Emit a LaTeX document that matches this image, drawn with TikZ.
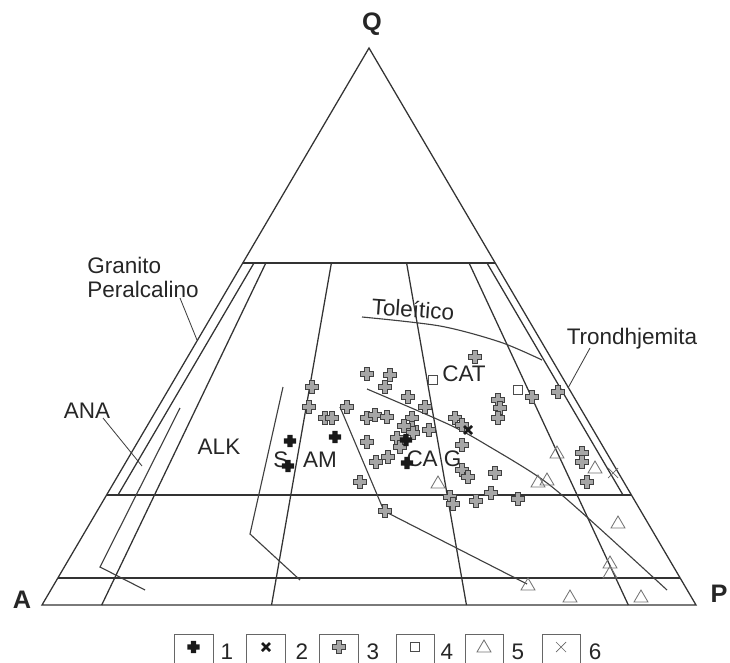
\documentclass[tikz,border=0pt]{standalone}
\usepackage{fontspec}
\setmainfont{Liberation Sans}
\usetikzlibrary{calc}

\newcommand{\crossoutline}[2]{(-#1,-#2) -- (#1,-#2) -- (#1,-#1) -- (#2,-#1) -- (#2,#1) -- (#1,#1) -- (#1,#2) -- (-#1,#2) -- (-#1,#1) -- (-#2,#1) -- (-#2,-#1) -- (-#1,-#1) -- cycle}

\tikzset{
  frame/.style={line width=0.9pt, black!80},
  trend/.style={line width=0.8pt, black!75},
  pointer/.style={line width=0.6pt, black!75},
  lbl/.style={font=\fontsize{16}{17.7}\selectfont, text=black!85, inner sep=0pt},
  vtx/.style={font=\fontsize{18}{20}\selectfont\bfseries, text=black!85, inner sep=0pt},
  legbox/.style={line width=0.6pt, black!60},
  pics/solidplus/.style={code={\fill[black!90] \crossoutline{2.6}{6.2};}},
  pics/hollowplus/.style={code={\draw[black!75, fill=black!35, line width=0.8pt] \crossoutline{2.3}{6.2};}},
  pics/boldx/.style={code={\draw[black!90, line width=1.8pt] (-4,-4) -- (4,4) (-4,4) -- (4,-4);}},
  pics/opensquare/.style={code={\draw[black!70, line width=0.6pt] (-4.5,-4.5) rectangle (4.5,4.5);}},
  pics/opentri/.style={code={\draw[black!55, line width=0.6pt] (-7,5) -- (7,5) -- (0,-7) -- cycle;}},
  pics/thinx/.style={code={\draw[black!60, line width=0.5pt] (-5,-5) -- (5,5) (-5,5) -- (5,-5);}}
}

\begin{document}
\begin{tikzpicture}[x=0.025cm, y=-0.025cm]
\clip (0,0) rectangle (730,663);
\coordinate (Q) at (369,48);
\coordinate (A) at (42,605);
\coordinate (P) at (696,605);

% outline and Q levels
\draw[frame] (A) -- (Q) -- (P) -- cycle;
\draw[frame] ($(A)!0.614!(Q)$) -- ($(P)!0.614!(Q)$);
\draw[frame] ($(A)!0.1975!(Q)$) -- ($(P)!0.1975!(Q)$);
\draw[frame] ($(A)!0.0485!(Q)$) -- ($(P)!0.0485!(Q)$);

% P/(A+P) divisions
\foreach \r in {0.0913,0.351,0.649,0.8965} {
  \coordinate (base) at ($(A)!\r!(P)$);
  \draw[frame] ($(Q)!0.386!(base)$) -- (base);
}

% narrow strips along the sides
\coordinate (perTop) at (254,263);
\coordinate (perBot) at (118,495);
\coordinate (troTop) at (487,263);
\coordinate (troBot) at (623,495);
\draw[frame] (perTop) -- (perBot);
\draw[frame] (troTop) -- (troBot);

% series trends
\draw[trend] (180,408) -- (100,567) -- (145,590);
\draw[trend] (283,387) -- (250,534) -- (300,580);
\draw[trend] (340,407) -- (384,511) -- (527,584);
\draw[trend] plot[smooth] coordinates {(367,389) (450,425) (490,447) (543,480) (588,518) (667,590)};
\draw[trend] plot[smooth] coordinates {(362,317) (440,326) (500,342) (542,360)};

% labels
\node[vtx] (lblQ) at (372,24) {Q};
\node[vtx] (lblA) at (22,600) {A};
\node[vtx] (lblP) at (719,594) {P};
\node[lbl, align=left, anchor=west] (granito) at (87,277.5) {Granito\\Peralcalino};
\node[lbl] (ana) at (87,411) {ANA};
\node[lbl] (alk) at (219,447) {ALK};
\node[lbl] (sLbl) at (281,460) {S};
\node[lbl] (amLbl) at (320,460) {AM};
\node[lbl] (cat) at (464,374) {CAT};
\node[lbl] (cag) at (434,459) {CA G};
\node[lbl, rotate=-4] (tol) at (413,309) {Toleítico};
\node[lbl] (trond) at (632,339) {Trondhjemita};

% pointers
\coordinate (perTip) at (197,340);
\coordinate (anaTip) at (142,466);
\coordinate (troTip) at (568,388);
\draw[pointer] (180,298) -- (perTip);
\draw[pointer] (103,418) -- (anaTip);
\draw[pointer] (590,348) -- (troTip);

% samples
\foreach \px/\py in {475/357, 367/374, 390/375, 385/387, 408/397, 425/407, 312/387, 309/407,
  325/418, 332/418, 347/407, 367/418, 375/415, 387/417, 412/418, 412/428, 429/430, 367/442,
  397/438, 400/447, 413/433, 404/426, 376/462, 388/457, 360/482, 385/511, 455/418, 462/425,
  462/445, 462/470, 468/477, 450/497, 453/504, 476/501, 495/473, 491/493, 518/499, 498/400,
  500/408, 498/418, 532/397, 558/392, 582/453, 582/462, 587/482}
  \pic at (\px,\py) {hollowplus};
\foreach \px/\py in {290/441, 335/437, 288/466, 406/440, 407/463}
  \pic at (\px,\py) {solidplus};
\pic at (468,430) {boldx};
\foreach \px/\py in {433/380, 518/390}
  \pic at (\px,\py) {opensquare};
\foreach \px/\py in {438/483, 557/453, 538/482, 547/480, 595/468, 618/523, 610/563, 610/573,
  570/597, 641/597, 528/585}
  \pic at (\px,\py) {opentri};
\pic at (613,473) {thinx};

% legend
\draw[legbox] (174,634) rectangle (213,672);
\pic at (193.5,647) {solidplus};
\node[lbl] (leg1) at (227,652) {1};
\draw[legbox] (246.5,634) rectangle (285.5,672);
\pic at (266,647) {boldx};
\node[lbl] (leg2) at (302,652) {2};
\draw[legbox] (319.5,634) rectangle (358.5,672);
\pic at (339,647) {hollowplus};
\node[lbl] (leg3) at (373,652) {3};
\draw[legbox] (396,634) rectangle (434,672);
\pic at (415,647) {opensquare};
\node[lbl] (leg4) at (447,652) {4};
\draw[legbox] (465,634) rectangle (503,672);
\pic at (484,647) {opentri};
\node[lbl] (leg5) at (518,652) {5};
\draw[legbox] (542,634) rectangle (580,672);
\pic at (561,647) {thinx};
\node[lbl] (leg6) at (595,652) {6};
\end{tikzpicture}
\end{document}
